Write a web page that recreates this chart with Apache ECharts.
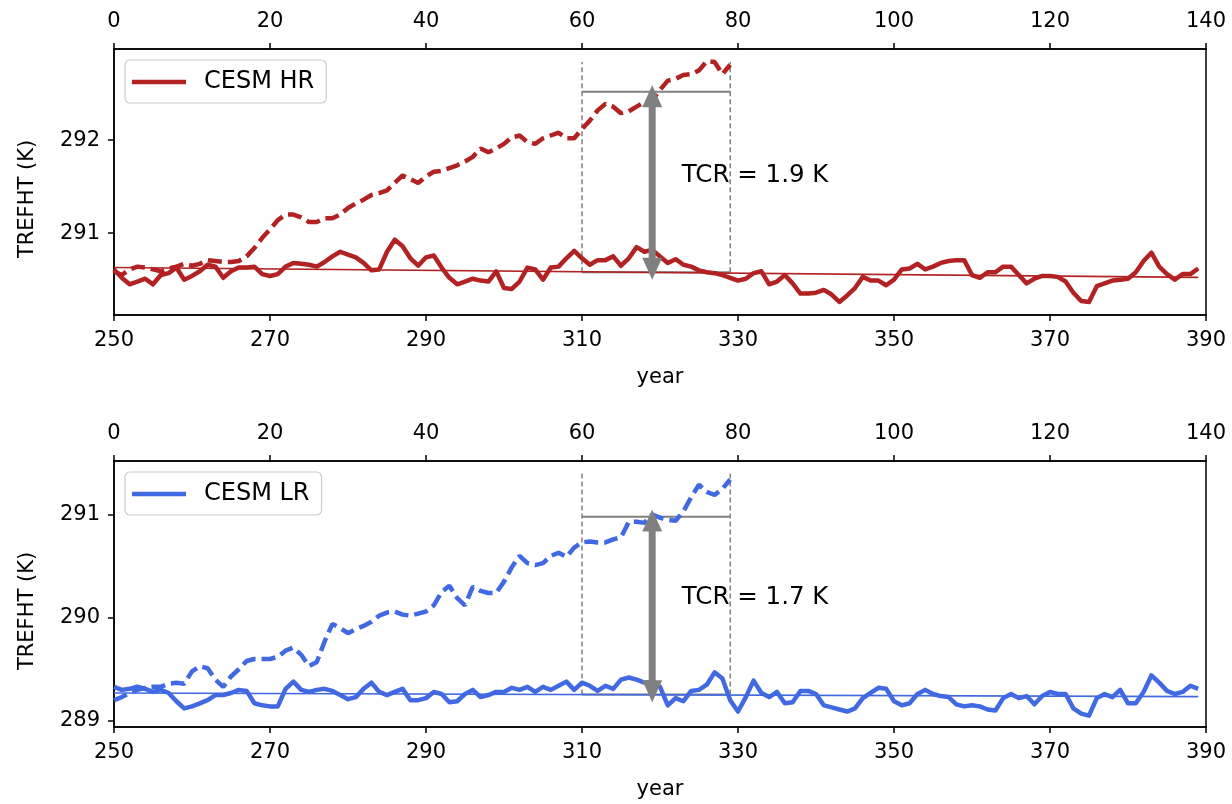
<!DOCTYPE html>
<html>
<head>
<meta charset="utf-8">
<script src="https://cdn.jsdelivr.net/npm/echarts@6/dist/echarts.min.js"></script>
<style>
html,body{margin:0;padding:0;background:#fff;}
#chart{width:1232px;height:804px;}
</style>
</head>
<body>
<div id="chart"></div>
<script>
// ---------- data (x = year index 0..139 on top axis; year = 250 + index) ----------
const yearTicks = [250, 270, 290, 310, 330, 350, 370, 390];
const indexTicks = [0, 20, 40, 60, 80, 100, 120, 140];
const hrYTicks = [291, 292];
const lrYTicks = [289, 290, 291];

const hrSolid = [
290.61,290.52,290.45,290.48,290.51,290.45,290.55,290.57,290.63,290.50,
290.54,290.59,290.66,290.64,290.52,290.59,290.63,290.63,290.64,290.56,
290.54,290.56,290.64,290.68,290.67,290.66,290.64,290.69,290.75,290.80,
290.77,290.74,290.68,290.60,290.61,290.80,290.93,290.86,290.73,290.65,
290.74,290.76,290.63,290.52,290.45,290.48,290.51,290.49,290.48,290.59,
290.41,290.40,290.48,290.63,290.61,290.50,290.63,290.64,290.73,290.81,
290.73,290.66,290.71,290.71,290.75,290.65,290.73,290.85,290.80,290.82,
290.75,290.68,290.72,290.66,290.64,290.60,290.58,290.57,290.55,290.52,
290.49,290.51,290.57,290.59,290.45,290.48,290.55,290.46,290.35,290.35,
290.36,290.39,290.34,290.26,290.33,290.41,290.53,290.49,290.49,290.44,
290.50,290.61,290.62,290.67,290.61,290.64,290.68,290.70,290.71,290.71,
290.55,290.52,290.58,290.58,290.64,290.64,290.55,290.46,290.51,290.54,
290.54,290.53,290.48,290.36,290.27,290.26,290.43,290.46,290.49,290.50,
290.51,290.58,290.70,290.79,290.64,290.56,290.50,290.56,290.56,290.62
];
const hrDashed = [
290.59,290.55,290.61,290.64,290.63,290.61,290.59,290.62,290.64,290.67,
290.65,290.67,290.71,290.70,290.69,290.69,290.70,290.75,290.84,290.95,
291.04,291.14,291.20,291.20,291.17,291.12,291.12,291.16,291.16,291.20,
291.27,291.32,291.36,291.41,291.43,291.46,291.54,291.62,291.58,291.54,
291.61,291.66,291.67,291.70,291.73,291.77,291.82,291.91,291.87,291.91,
291.96,292.03,292.05,291.98,291.96,292.02,292.05,292.08,292.02,292.02,
292.12,292.21,292.32,292.39,292.36,292.29,292.31,292.36,292.41,292.43,
292.54,292.64,292.66,292.70,292.71,292.75,292.85,292.84,292.71,292.81
];
const lrSolid = [
289.33,289.30,289.31,289.33,289.31,289.28,289.30,289.27,289.19,289.12,
289.14,289.17,289.20,289.25,289.25,289.27,289.30,289.29,289.17,289.15,
289.14,289.14,289.31,289.38,289.30,289.28,289.30,289.31,289.29,289.25,
289.21,289.23,289.31,289.37,289.28,289.25,289.28,289.31,289.20,289.20,
289.22,289.28,289.26,289.18,289.19,289.26,289.30,289.23,289.25,289.28,
289.28,289.32,289.30,289.33,289.28,289.33,289.30,289.34,289.38,289.30,
289.37,289.34,289.29,289.34,289.31,289.40,289.42,289.40,289.37,289.38,
289.33,289.15,289.22,289.19,289.29,289.30,289.35,289.47,289.41,289.20,
289.09,289.23,289.39,289.27,289.23,289.28,289.17,289.18,289.29,289.29,
289.26,289.15,289.13,289.11,289.09,289.12,289.22,289.27,289.32,289.31,
289.19,289.15,289.17,289.26,289.30,289.26,289.24,289.23,289.16,289.14,
289.15,289.14,289.11,289.10,289.22,289.26,289.22,289.24,289.16,289.24,
289.28,289.26,289.26,289.12,289.07,289.05,289.22,289.26,289.23,289.30,
289.17,289.17,289.28,289.44,289.37,289.29,289.26,289.28,289.34,289.31
];
const lrDashed = [
289.20,289.23,289.27,289.30,289.32,289.33,289.33,289.36,289.37,289.36,
289.48,289.53,289.51,289.40,289.33,289.43,289.50,289.58,289.60,289.60,
289.60,289.62,289.68,289.71,289.64,289.53,289.57,289.77,289.94,289.90,
289.85,289.89,289.92,289.96,290.02,290.05,290.06,290.03,290.02,290.04,
290.06,290.12,290.25,290.31,290.19,290.12,290.30,290.26,290.24,290.24,
290.35,290.49,290.60,290.53,290.51,290.53,290.60,290.63,290.59,290.68,
290.73,290.74,290.73,290.73,290.76,290.78,290.93,290.93,290.92,291.00,
290.97,290.95,290.94,291.03,291.17,291.29,291.22,291.19,291.25,291.34
];
// linear trend endpoints at index 0 and 139
const hrTrend = [290.63, 290.525];
const lrTrend = [289.27, 289.235];
// TCR window: [startIndex, endIndex], levels [low, high], dashed-marker top, arrow [index, low, high]
const tcrWindow = [60, 79];
const hrLevels = [290.58, 292.52];
const lrLevels = [289.256, 290.98];
const hrMarkTop = 292.84;
const lrMarkTop = 291.40;
const hrArrow = [69, 290.50, 292.59];
const lrArrow = [69, 289.18, 291.05];
const tcrLabels = ['TCR = 1.9 K', 'TCR = 1.7 K'];
const tcrLabelPos = [[72.8, 291.62], [72.8, 290.19]];
const names = ['CESM HR', 'CESM LR'];
const colors = ['#b22222', '#4169e1'];

// ---------- chart ----------
const FONT = 'DejaVu Sans';
const gray = '#808080';
const chart = echarts.init(document.getElementById('chart'), null, {renderer: 'canvas'});

function pairs(arr) { return arr.map((v, i) => [i, v]); }

function xAxes(gridIndex) {
  const common = {
    gridIndex: gridIndex, type: 'value',
    axisLine: {show: true, onZero: false, lineStyle: {color: '#000', width: 1.5}},
    axisTick: {show: true, inside: false, length: 6, lineStyle: {color: '#000', width: 1.5}},
    splitLine: {show: false},
  };
  return [
    Object.assign({}, common, {
      position: 'bottom', min: 250, max: 390,
      axisTick: Object.assign({}, common.axisTick, {customValues: yearTicks}),
      axisLabel: {customValues: yearTicks, color: '#000', fontFamily: FONT, fontSize: 21, margin: 15, showMinLabel: true, showMaxLabel: true},
      name: 'year', nameLocation: 'middle', nameGap: 52,
      nameTextStyle: {color: '#000', fontFamily: FONT, fontSize: 21}
    }),
    Object.assign({}, common, {
      position: 'top', min: 0, max: 140,
      axisTick: Object.assign({}, common.axisTick, {customValues: indexTicks}),
      axisLabel: {customValues: indexTicks, color: '#000', fontFamily: FONT, fontSize: 21, margin: 17, showMinLabel: true, showMaxLabel: true}
    })
  ];
}

function yAxis(gridIndex, min, max, ticks) {
  return {
    gridIndex: gridIndex, type: 'value', min: min, max: max, position: 'left',
    axisLine: {show: true, onZero: false, lineStyle: {color: '#000', width: 1.5}},
    axisTick: {show: true, length: 6, customValues: ticks, lineStyle: {color: '#000', width: 1.5}},
    axisLabel: {customValues: ticks, color: '#000', fontFamily: FONT, fontSize: 21, margin: 14},
    splitLine: {show: false},
    name: 'TREFHT (K)', nameLocation: 'middle', nameGap: 76, nameRotate: 90,
    nameTextStyle: {color: '#000', fontFamily: FONT, fontSize: 21, padding: [0, 34, 0, 0]}
  };
}

function panelSeries(p, solid, dashed, trend, levels, markTop, arrow) {
  const xIdx = p * 2 + 1;
  const c = colors[p];
  const base = {type: 'line', xAxisIndex: xIdx, yAxisIndex: p, showSymbol: false, symbol: 'none', silent: true, animation: false};
  const gline = (data, dash, w) => Object.assign({}, base, {
    name: 'box' + p, data: data, z: 1,
    lineStyle: {color: gray, width: w, type: dash}
  });
  return [
    gline([[tcrWindow[0], levels[0]], [tcrWindow[0], markTop]], [5, 3], 1.5),
    gline([[tcrWindow[1], levels[0]], [tcrWindow[1], markTop]], [5, 3], 1.5),
    gline([[tcrWindow[0], levels[1]], [tcrWindow[1], levels[1]]], 'solid', 2),
    gline([[tcrWindow[0], levels[0]], [tcrWindow[1], levels[0]]], 'solid', 2),
    Object.assign({}, base, {name: names[p], data: pairs(solid), z: 3,
      lineStyle: {color: c, width: 4.5, join: 'round'}, itemStyle: {color: c}}),
    Object.assign({}, base, {name: names[p] + ' 1pctCO2', data: pairs(dashed), z: 3,
      lineStyle: {color: c, width: 4.5, type: [14, 6]}, itemStyle: {color: c}}),
    Object.assign({}, base, {name: names[p] + ' trend', data: [[0, trend[0]], [139, trend[1]]], z: 3,
      lineStyle: {color: c, width: 1.6}}),
    {
      type: 'custom', xAxisIndex: xIdx, yAxisIndex: p, silent: true, animation: false, z: 4,
      data: [arrow], encode: {x: 0, y: [1, 2]},
      renderItem: function (params, api) {
        const lo = api.coord([api.value(0), api.value(1)]);
        const hi = api.coord([api.value(0), api.value(2)]);
        const x = lo[0], yb = lo[1], yt = hi[1];
        const hl = 22, hw = 10, sw = 3.5;
        return {type: 'group', children: [
          {type: 'rect', shape: {x: x - sw, y: yt + hl - 1, width: 2 * sw, height: (yb - yt) - 2 * hl + 2}, style: {fill: gray}},
          {type: 'polygon', shape: {points: [[x, yt], [x - hw, yt + hl], [x + hw, yt + hl]]}, style: {fill: gray}},
          {type: 'polygon', shape: {points: [[x, yb], [x - hw, yb - hl], [x + hw, yb - hl]]}, style: {fill: gray}}
        ]};
      }
    },
    {
      type: 'custom', xAxisIndex: xIdx, yAxisIndex: p, silent: true, animation: false, z: 5,
      data: [tcrLabelPos[p]], encode: {x: 0, y: 1},
      renderItem: function (params, api) {
        const pt = api.coord([api.value(0), api.value(1)]);
        return {type: 'text', x: pt[0], y: pt[1], style: {
          text: tcrLabels[p], fill: '#000', fontFamily: FONT, fontSize: 24.5,
          align: 'left', verticalAlign: 'middle'
        }};
      }
    }
  ];
}

function legend(p, top) {
  return {
    data: [names[p]], left: 125, top: top, orient: 'vertical',
    icon: 'rect', itemWidth: 54, itemHeight: 4.5,
    padding: [10, 12, 9, 7],
    borderColor: '#cccccc', borderWidth: 1.2, borderRadius: 5,
    backgroundColor: 'rgba(255,255,255,0.8)',
    textStyle: {color: '#000', fontFamily: FONT, fontSize: 24, padding: [0, 0, 0, 13]},
    selectedMode: false
  };
}

const option = {
  backgroundColor: '#ffffff',
  animation: false,
  textStyle: {fontFamily: FONT},
  grid: [
    {left: 114, right: 26, top: 49, height: 266, show: true, borderColor: '#000', borderWidth: 1.5, outerBoundsMode: 'none', containLabel: false},
    {left: 114, right: 26, top: 461, height: 266, show: true, borderColor: '#000', borderWidth: 1.5, outerBoundsMode: 'none', containLabel: false}
  ],
  xAxis: xAxes(0).concat(xAxes(1)),
  yAxis: [
    yAxis(0, 290.12, 292.98, hrYTicks),
    yAxis(1, 288.94, 291.52, lrYTicks)
  ],
  legend: [legend(0, 60), legend(1, 472)],
  series: []
    .concat(panelSeries(0, hrSolid, hrDashed, hrTrend, hrLevels, hrMarkTop, hrArrow))
    .concat(panelSeries(1, lrSolid, lrDashed, lrTrend, lrLevels, lrMarkTop, lrArrow))
};
chart.setOption(option);
</script>
</body>
</html>
